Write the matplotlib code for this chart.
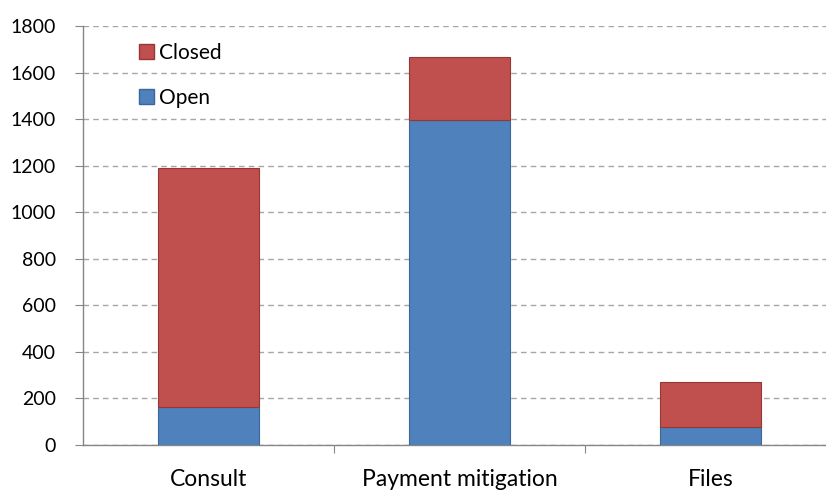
import matplotlib
matplotlib.use("Agg")
import matplotlib.pyplot as plt
from matplotlib.patches import Patch

categories = ["Consult", "Payment mitigation", "Files"]
open_vals = [163, 1396, 77]
closed_vals = [1027, 271, 193]

BLUE = "#4F81BD"
RED = "#C0504D"

plt.rcParams["font.family"] = ["Lato", "DejaVu Sans"]

W, H = 826, 493
fig = plt.figure(figsize=(W / 100, H / 100), dpi=100)
# plot area in pixels: left 83, right 836 (runs past edge), top 26, bottom 445
ax = fig.add_axes([83 / W, (H - 445) / H, (836 - 83) / W, (445 - 26) / H])

x = list(range(len(categories)))
ax.bar(x, open_vals, width=0.4, color=BLUE, edgecolor="#3A6796", linewidth=0.8,
       zorder=3, label="Open")
ax.bar(x, closed_vals, width=0.4, bottom=open_vals, color=RED,
       edgecolor="#953735", linewidth=0.8, zorder=3, label="Closed")

ax.set_xlim(-0.5, 2.5)
ax.set_ylim(0, 1800)
ax.set_yticks(range(0, 1801, 200))
ax.yaxis.grid(True, linestyle=(0, (4, 3)), color="#A6A6A6", linewidth=1.0, zorder=0)

for s in ["top", "right"]:
    ax.spines[s].set_visible(False)
for s in ["left", "bottom"]:
    ax.spines[s].set_color("#868686")
    ax.spines[s].set_linewidth(1.0)

ax.set_xticks([0.5, 1.5])
ax.set_xticklabels([])
ax.set_xticks(x, minor=True)
ax.set_xticklabels(categories, minor=True, fontsize=16.5)
ax.tick_params(axis="x", which="major", length=6, color="#868686", direction="out")
ax.tick_params(axis="x", which="minor", length=0, pad=17)
ax.tick_params(axis="y", length=6, color="#868686", labelsize=14, pad=13.5)

handles = [Patch(facecolor=RED, edgecolor="#953735", label="Closed"),
           Patch(facecolor=BLUE, edgecolor="#3A6796", label="Open")]
fig.legend(handles=handles, loc="upper left",
           bbox_to_anchor=(139 / W, 1 - 43 / H), frameon=False,
           fontsize=15, handlelength=0.7, handleheight=0.7,
           handletextpad=0.25, labelspacing=1.2, borderaxespad=0,
           borderpad=0)

fig.savefig("out.png", dpi=100)
